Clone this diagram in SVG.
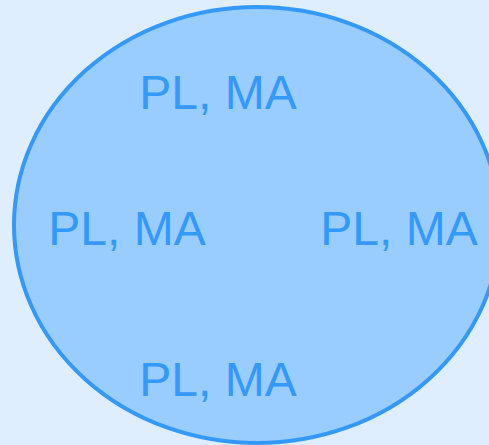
<svg xmlns="http://www.w3.org/2000/svg" width="489" height="445" viewBox="0 0 489 445">
<style>
.lbl{font-family:"Liberation Sans",Arial,sans-serif;font-size:48px;fill:#3399ff;text-anchor:middle}
</style>
<rect width="489" height="445" fill="#deeeff"/>
<g id="ellipse">
<ellipse cx="257" cy="225" rx="243" ry="218" fill="#99ccff" stroke="#3399ff" stroke-width="4"/>
</g>
<g id="labels">
<text class="lbl" x="218" y="109">PL, MA</text>
<text class="lbl" x="127" y="245">PL, MA</text>
<text class="lbl" x="399" y="245">PL, MA</text>
<text class="lbl" x="218" y="396">PL, MA</text>
</g>
<g id="connectors"/>
</svg>
